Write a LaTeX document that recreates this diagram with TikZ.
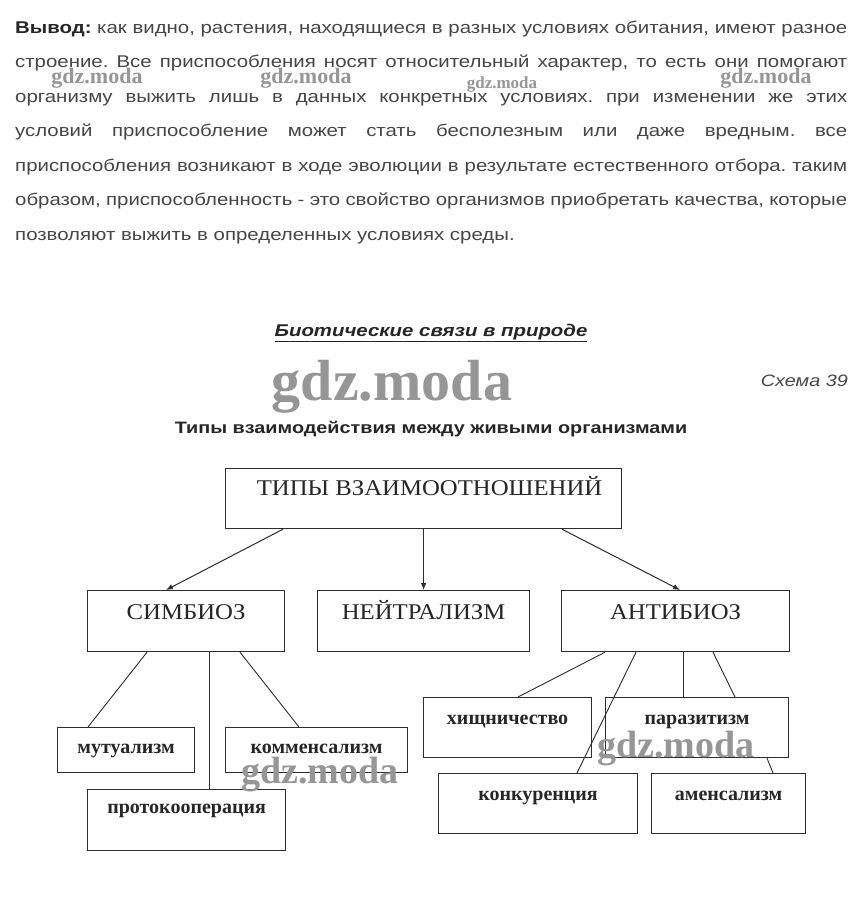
\documentclass[tikz,border=0pt]{standalone}
\usepackage{fontspec}
\setmainfont{Liberation Sans}
\newfontfamily\parafont[FakeStretch=1.2]{Liberation Sans}
\newfontfamily\schemefont[FakeStretch=1.1]{Liberation Serif}
\newfontfamily\wmfont{Liberation Serif}
\usepackage{tikz}
\usetikzlibrary{arrows.meta,positioning}
\definecolor{textgray}{RGB}{70,70,70}
\definecolor{linegray}{RGB}{45,45,45}
\definecolor{wmgray}{RGB}{150,150,150}
\frenchspacing

\begin{document}
\begin{tikzpicture}[x=1pt,y=-1pt,
  paraline/.style={anchor=base west,inner sep=0pt,text=textgray,
    font=\parafont\fontsize{17}{17}\selectfont},
  box/.style={draw=linegray,line width=1.2pt,inner xsep=0pt,inner ysep=0pt,
    anchor=north west,text=black!85,font=\schemefont\fontsize{22.5}{22.5}\selectfont},
  subbox/.style={box,font=\wmfont\bfseries\fontsize{20}{20}\selectfont},
  arr/.style={draw=linegray,line width=1pt,-{Latex[length=7pt,width=5.5pt]}},
  link/.style={draw=linegray,line width=0.9pt},
  wmark/.style={anchor=base,inner sep=0pt,text=wmgray,font=\wmfont\bfseries}]
  % page: 860 x 902 px, y grows downward
  \fill[white] (0,0) rectangle (860,902);
  \useasboundingbox (0,0) rectangle (860,902);

  % conclusion paragraph, one node per justified line
  \node[paraline] (line1) at (15,33) {\makebox[832pt][s]{{\color{black!85}\textbf{Вывод:}} как видно, растения, находящиеся в разных условиях обитания, имеют разное}};
  \node[paraline] (line2) at (15,67.5) {\makebox[832pt][s]{строение. Все приспособления носят относительный характер, то есть они помогают}};
  \node[paraline] (line3) at (15,102) {\makebox[832pt][s]{организму выжить лишь в данных конкретных условиях. при изменении же этих}};
  \node[paraline] (line4) at (15,136.5) {\makebox[832pt][s]{условий приспособление может стать бесполезным или даже вредным. все}};
  \node[paraline] (line5) at (15,171) {\makebox[832pt][s]{приспособления возникают в ходе эволюции в результате естественного отбора. таким}};
  \node[paraline] (line6) at (15,205.5) {\makebox[832pt][s]{образом, приспособленность - это свойство организмов приобретать качества, которые}};
  \node[paraline] (line7) at (15,240) {позволяют выжить в определенных условиях среды.};

  % small watermarks over the paragraph
  \foreach \wx/\wy/\ws in {97/83/22,306/83/22,502/88/17,766/83/22}{
    \node[wmark,font=\wmfont\bfseries\fontsize{\ws}{\ws}\selectfont] at (\wx,\wy) {gdz.moda};}

  % headings
  \node[anchor=base,text=black!85,font=\parafont\bfseries\itshape\fontsize{17}{17}\selectfont]
    (biotitle) at (431,336) {\underline{Биотические связи в природе}};
  \node[anchor=base east,inner sep=0pt,text=textgray,font=\parafont\itshape\fontsize{16.5}{16.5}\selectfont]
    (schemeno) at (848,386) {Схема 39};
  \node[wmark,font=\wmfont\bfseries\fontsize{58}{58}\selectfont] (wmtop) at (392,400) {gdz.moda};
  \node[anchor=base,text=black!85,font=\parafont\bfseries\fontsize{16.5}{16.5}\selectfont]
    (schemetitle) at (431,433) {Типы взаимодействия между живыми организмами};

  % scheme: top and middle boxes
  \node[box,minimum width=396pt,text height=27pt,text depth=33pt] (types) at (225,468)
    {\hspace*{12pt}ТИПЫ ВЗАИМООТНОШЕНИЙ};
  \node[box,minimum width=197pt,text height=28.5pt,text depth=32.5pt] (symb) at (87,590) {СИМБИОЗ};
  \node[box,minimum width=212pt,text height=28.5pt,text depth=32.5pt] (neutr) at (317,590) {НЕЙТРАЛИЗМ};
  \node[box,minimum width=228pt,text height=28.5pt,text depth=32.5pt] (antib) at (561,590) {АНТИБИОЗ};

  % lower boxes: name / left / top / width / text height / text depth / label
  \foreach \nm/\bx/\by/\bw/\th/\td/\txt in {
      mutu/57/727/137/25.5/19.5/мутуализм,
      komm/225/727/182/25.5/19.5/комменсализм,
      proto/87/789/198/23.5/37.5/протокооперация,
      hisch/423/697/168/26.5/33.5/хищничество,
      paras/605/697/183/26.5/33.5/паразитизм,
      konk/438/773/199/26.5/33.5/конкуренция,
      amens/651/773/154/26.5/33.5/аменсализм}{
    \node[subbox,minimum width=\bw pt,text height=\th pt,text depth=\td pt] (\nm) at (\bx,\by) {\txt};}

  % arrows from the top box
  \draw[arr] ([xshift=58pt]types.south west) -- ([xshift=79pt]symb.north west);
  \draw[arr] (types.south) -- (neutr.north);
  \draw[arr] ([xshift=337pt]types.south west) -- ([xshift=119pt]antib.north west);

  % symbiosis branches
  \draw[link] ([xshift=60pt]symb.south west) -- ([xshift=31pt]mutu.north west);
  \draw[link] ([xshift=122pt]symb.south west) -- ([xshift=122pt]proto.north west);
  \draw[link] ([xshift=153pt]symb.south west) -- ([xshift=74pt]komm.north west);

  % antibiosis branches
  \draw[link] ([xshift=44pt]antib.south west) -- ([xshift=95pt]hisch.north west);
  \draw[link] ([xshift=75pt]antib.south west) -- ([xshift=139pt]konk.north west);
  \draw[link] ([xshift=122pt]antib.south west) -- ([xshift=78pt]paras.north west);
  \draw[link] ([xshift=152pt]antib.south west) -- ([xshift=130pt]paras.north west);
  \draw[link] ([xshift=162pt]paras.south west) -- ([xshift=122pt]amens.north west);

  % watermarks over the scheme
  \node[wmark,font=\wmfont\bfseries\fontsize{38}{38}\selectfont] (wmright) at (676,757) {gdz.moda};
  \node[wmark,font=\wmfont\bfseries\fontsize{38}{38}\selectfont] (wmleft) at (320,783) {gdz.moda};
\end{tikzpicture}
\end{document}
